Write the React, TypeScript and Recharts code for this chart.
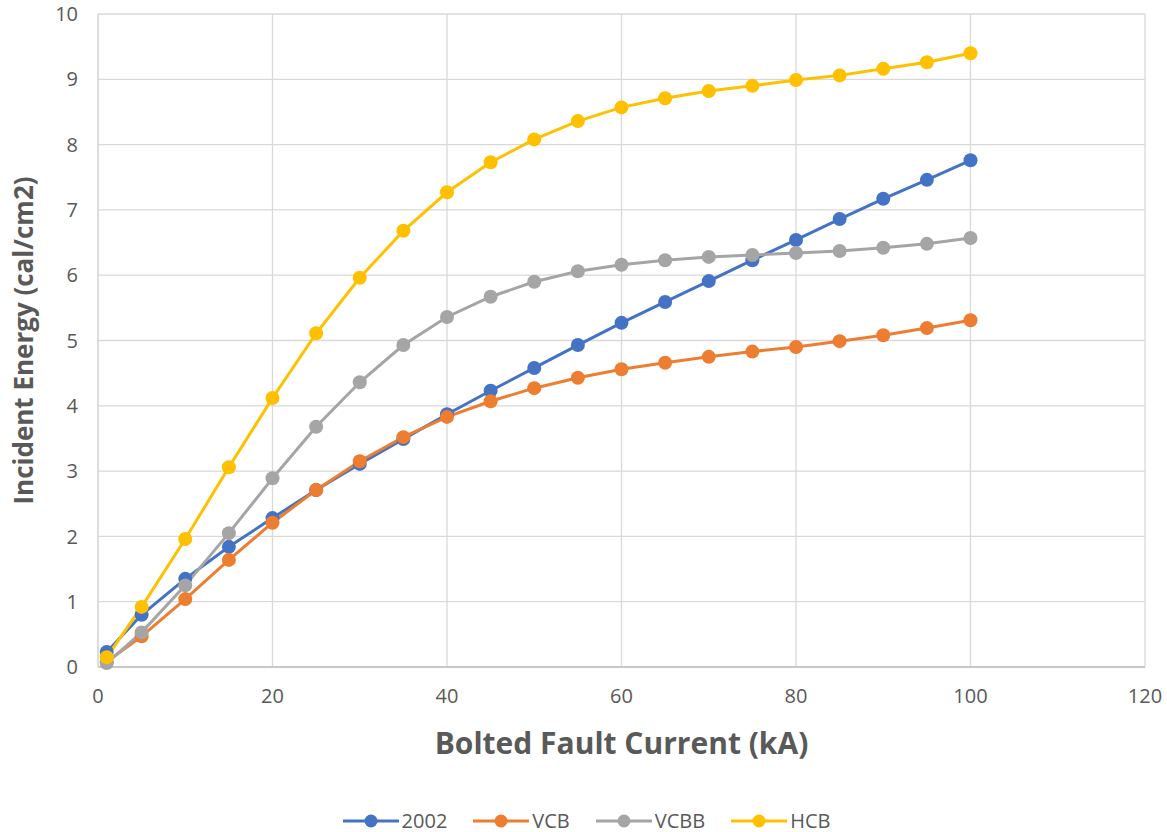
import React from 'react';
import { LineChart, Line, XAxis, YAxis, CartesianGrid, Legend } from 'recharts';

const currents = [1, 5, 10, 15, 20, 25, 30, 35, 40, 45, 50, 55, 60, 65, 70, 75, 80, 85, 90, 95, 100];
const ie2002 = [0.23, 0.8, 1.35, 1.84, 2.28, 2.71, 3.11, 3.49, 3.87, 4.23, 4.58, 4.93, 5.27, 5.59, 5.91, 6.23, 6.54, 6.86, 7.17, 7.46, 7.76];
const vcb = [0.08, 0.47, 1.04, 1.64, 2.21, 2.71, 3.15, 3.52, 3.83, 4.07, 4.27, 4.43, 4.56, 4.66, 4.75, 4.83, 4.9, 4.99, 5.08, 5.19, 5.31];
const vcbb = [0.06, 0.53, 1.25, 2.05, 2.89, 3.68, 4.36, 4.93, 5.36, 5.67, 5.9, 6.06, 6.16, 6.23, 6.28, 6.31, 6.34, 6.37, 6.42, 6.48, 6.57];
const hcb = [0.15, 0.92, 1.96, 3.06, 4.12, 5.11, 5.96, 6.68, 7.27, 7.73, 8.08, 8.36, 8.57, 8.71, 8.82, 8.9, 8.99, 9.06, 9.16, 9.26, 9.4];
const xTicks = [0, 20, 40, 60, 80, 100, 120];
const yTicks = [0, 1, 2, 3, 4, 5, 6, 7, 8, 9, 10];

const series = [
  { key: 'ie2002', name: '2002', color: '#4472C4' },
  { key: 'vcb', name: 'VCB', color: '#ED7D31' },
  { key: 'vcbb', name: 'VCBB', color: '#A5A5A5' },
  { key: 'hcb', name: 'HCB', color: '#FFC000' },
];

const data = currents.map((x, i) => ({
  x,
  ie2002: ie2002[i],
  vcb: vcb[i],
  vcbb: vcbb[i],
  hcb: hcb[i],
}));

const font = '"Open Sans", sans-serif';
const gray = '#595959';

function LegendContent() {
  return (
    <div
      style={{
        display: 'flex',
        justifyContent: 'center',
        gap: 26,
        fontFamily: font,
        fontSize: 20,
        lineHeight: '20px',
        color: gray,
        paddingLeft: 28,
        marginTop: 14,
      }}
    >
      {series.map((s) => (
        <div key={s.key} style={{ display: 'flex', alignItems: 'center' }}>
          <svg width={56} height={16} style={{ marginRight: 3 }}>
            <line x1={0} y1={8} x2={56} y2={8} stroke={s.color} strokeWidth={3} />
            <circle cx={28} cy={8} r={6.5} fill={s.color} />
          </svg>
          <span>{s.name}</span>
        </div>
      ))}
    </div>
  );
}

export default function App() {
  return (
    <div style={{ position: 'absolute', left: 0, top: 0, width: 1167, height: 832, background: '#fff' }}>
      <LineChart width={1167} height={832} data={data} margin={{ top: 14, right: 22, left: 0, bottom: 0 }}>
        <CartesianGrid stroke="#d9d9d9" strokeWidth={1.3} />
        <XAxis
          dataKey="x"
          type="number"
          domain={[0, 120]}
          ticks={xTicks}
          tickLine={false}
          axisLine={{ stroke: '#bfbfbf', strokeWidth: 1.3 }}
          tick={{ fill: gray, fontSize: 20, fontFamily: font }}
          tickMargin={16}
          height={130}
          label={{
            value: 'Bolted Fault Current (kA)',
            position: 'insideTop',
            offset: 66,
            fill: gray,
            fontSize: 30,
            fontWeight: 700,
            fontFamily: font,
          }}
        />
        <YAxis
          type="number"
          domain={[0, 10]}
          ticks={yTicks}
          tickLine={false}
          axisLine={{ stroke: '#d9d9d9', strokeWidth: 1.3 }}
          tick={{ fill: gray, fontSize: 20, fontFamily: font }}
          tickMargin={14}
          width={98}
          label={{
            value: 'Incident Energy (cal/cm2)',
            angle: -90,
            position: 'insideLeft',
            offset: 24,
            style: { textAnchor: 'middle' },
            fill: gray,
            fontSize: 26,
            fontWeight: 700,
            fontFamily: font,
          }}
        />
        <Legend verticalAlign="bottom" height={35} content={<LegendContent />} />
        {series.map((s) => (
          <Line
            key={s.key}
            dataKey={s.key}
            name={s.name}
            stroke={s.color}
            strokeWidth={3}
            dot={{ r: 7, fill: s.color, stroke: s.color, strokeWidth: 0 }}
            isAnimationActive={false}
          />
        ))}
      </LineChart>
    </div>
  );
}
